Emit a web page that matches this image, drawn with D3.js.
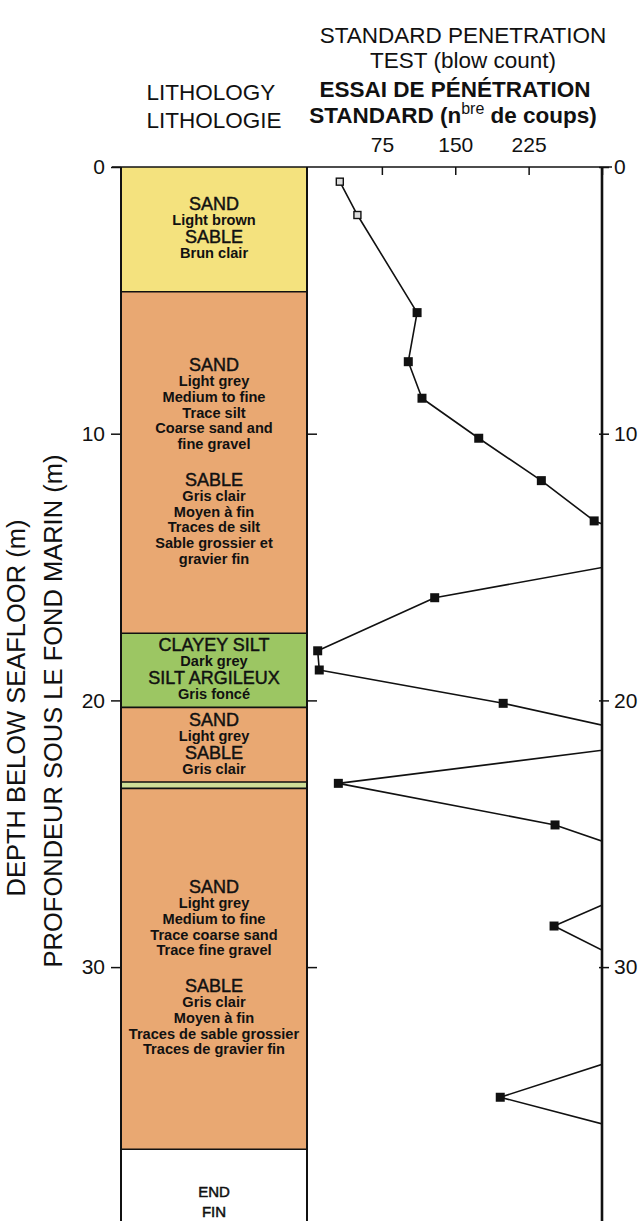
<!DOCTYPE html>
<html><head><meta charset="utf-8">
<script src="https://cdn.jsdelivr.net/npm/d3@7"></script>
<style>
html,body{margin:0;padding:0;background:#fff;}
svg{display:block;font-family:"Liberation Sans",Arial,Helvetica,sans-serif;}
</style></head><body>
<svg id="c" width="643" height="1221"></svg>
<script>
// ---------------- DATA ----------------
const depthTicks = [0, 10, 20, 30];
const depthTickLabels = ["0", "10", "20", "30"];
const sptTicks = [75, 150, 225, 300];
const sptTickLabels = ["75", "150", "225", ""];

// lithology layers (depth in m)
const layerTop    = [0,    4.68,  17.48, 20.26, 23.06, 23.3,  36.83];
const layerBottom = [4.68, 17.48, 20.26, 23.06, 23.3,  36.83, 40.9];
const layerKind   = ["sandBrown", "sandGrey", "clayeySilt", "sandGrey", "thinSilt", "sandGrey", "end"];
const layerText = [
  [["SAND","h"],["Light brown","s"],["SABLE","h"],["Brun clair","s"]],
  [["SAND","h"],["Light grey","s"],["Medium to fine","s"],["Trace silt","s"],["Coarse sand and","s"],["fine gravel","s"],"|",
   ["SABLE","h"],["Gris clair","s"],["Moyen à fin","s"],["Traces de silt","s"],["Sable grossier et","s"],["gravier fin","s"]],
  [["CLAYEY SILT","h"],["Dark grey","s"],["SILT ARGILEUX","h"],["Gris foncé","s"]],
  [["SAND","h"],["Light grey","s"],["SABLE","h"],["Gris clair","s"]],
  [],
  [["SAND","h"],["Light grey","s"],["Medium to fine","s"],["Trace coarse sand","s"],["Trace fine gravel","s"],"|",
   ["SABLE","h"],["Gris clair","s"],["Moyen à fin","s"],["Traces de sable grossier","s"],["Traces de gravier fin","s"]],
  [["END","e"],["FIN","e"]]
];

// standard penetration test: depth (m) and blow count (values > 300 are off-scale)
const sptDepth  = [0.55, 1.80, 5.46, 7.30, 8.67, 10.17, 11.76, 13.27, 14.49, 16.15, 18.14, 18.86, 20.11, 21.53, 23.11, 24.67, 26.34, 28.46, 31.97, 34.88, 36.6];
const sptBlows  = [32,   50,   111,  102,  116,  174,   238,   292,   380,   129,   9.4,   11,    199,   374,   30.5,  252,   384,   251,   441,   196,   375];
const sptOpen   = [true, true, false,false,false,false, false, false, false, false, false, false, false, false, false, false, false, false, false, false, false];

// ---------------- STYLE ----------------
const colors = {sandBrown:"#f4e27e", sandGrey:"#e9a872", clayeySilt:"#9cc663", thinSilt:"#cfdf98", end:"#ffffff"};
const font = {h:{size:18, weight:"normal", stroke:0.45}, s:{size:14.6, weight:"bold", stroke:0}, e:{size:15, weight:"normal", stroke:0.5}};

const svg = d3.select("#c");
const y = d3.scaleLinear().domain([0, 40]).range([167, 167 + 40 * 26.67]);
const x = d3.scaleLinear().domain([0, 300]).range([308.5, 602]);
const colL = 121, colR = 307, H = 1221;

// ---- lithology layers ----
const layers = layerTop.map((t, i) => ({top: t, bottom: layerBottom[i], kind: layerKind[i], text: layerText[i]}));
svg.append("g").selectAll("rect").data(layers).join("rect")
  .attr("x", colL).attr("width", colR - colL)
  .attr("y", d => y(d.top)).attr("height", d => y(d.bottom) - y(d.top))
  .attr("fill", d => colors[d.kind]);
svg.append("g").selectAll("line").data(layerBottom.slice(0, -1)).join("line")
  .attr("x1", colL).attr("x2", colR).attr("y1", d => y(d)).attr("y2", d => y(d))
  .attr("stroke", "#111").attr("stroke-width", 1.6);

// layer labels
function layout(lines) {
  const out = []; let yy = 0, prev = null, gap = false;
  lines.forEach(l => {
    if (l === "|") { gap = true; return; }
    const k = l[1];
    if (prev !== null) {
      if (gap) yy += 37;
      else if (k === "e" || prev === "e") yy += 20;
      else if (k === "h") yy += 18;
      else if (prev === "h") yy += 15;
      else yy += 15.7;
    }
    out.push({t: l[0], k, dy: yy}); prev = k; gap = false;
  });
  return out;
}
layers.forEach(L => {
  if (!L.text.length) return;
  const ls = layout(L.text);
  const top = ls[0].dy - font[ls[0].k].size * 0.72, bot = ls[ls.length - 1].dy + 3;
  const c = (y(L.top) + y(L.bottom)) / 2;
  const base = c - (top + bot) / 2;
  svg.append("g").selectAll("text").data(ls).join("text")
    .attr("x", (colL + colR) / 2).attr("y", d => base + d.dy)
    .attr("text-anchor", "middle").attr("fill", "#111")
    .attr("stroke", "#111").attr("stroke-width", d => font[d.k].stroke)
    .style("font-size", d => font[d.k].size + "px").style("font-weight", d => font[d.k].weight)
    .text(d => d.t);
});

// column borders
svg.append("line").attr("x1", colL).attr("x2", colL).attr("y1", y(0)).attr("y2", H).attr("stroke", "#111").attr("stroke-width", 2);
svg.append("line").attr("x1", colR).attr("x2", colR).attr("y1", y(0)).attr("y2", H).attr("stroke", "#111").attr("stroke-width", 2);
svg.append("line").attr("x1", x(300)).attr("x2", x(300)).attr("y1", y(0)).attr("y2", H).attr("stroke", "#111").attr("stroke-width", 2.6);
svg.append("line").attr("x1", 112).attr("x2", 612).attr("y1", y(0)).attr("y2", y(0)).attr("stroke", "#111").attr("stroke-width", 1.5);

// ---- axes ----
const axFont = g => g.selectAll("text").style("font-size", "21px").attr("fill", "#111").style("font-family", "Liberation Sans, Arial, sans-serif");
const axLine = g => { g.select(".domain").remove(); g.selectAll(".tick line").attr("stroke", "#111").attr("stroke-width", 1.5); };

svg.append("g").attr("transform", `translate(${colL},0)`)
  .call(d3.axisLeft(y).tickValues(depthTicks).tickFormat((d, i) => depthTickLabels[i]).tickSize(10).tickPadding(6))
  .call(axLine).call(axFont);
svg.append("g").attr("transform", `translate(${colR},0)`)
  .call(d3.axisLeft(y).tickValues(depthTicks.slice(1)).tickFormat("").tickSize(-10))
  .call(axLine);
svg.append("g").attr("transform", `translate(${x(300) - 3},0)`)
  .call(d3.axisRight(y).tickValues(depthTicks).tickFormat((d, i) => depthTickLabels[i]).tickSize(10).tickPadding(5))
  .call(axLine).call(axFont);
svg.append("g").attr("transform", `translate(0,${y(0)})`)
  .call(d3.axisTop(x).tickValues(sptTicks).tickFormat((d, i) => sptTickLabels[i]).tickSize(-8).tickSizeOuter(0).tickPadding(15))
  .call(axLine).call(axFont);

// ---- SPT profile ----
svg.append("clipPath").attr("id", "plotClip").append("rect")
  .attr("x", colR).attr("y", y(0)).attr("width", x(300) - colR).attr("height", H - y(0));
const pts = sptDepth.map((d, i) => ({d, v: sptBlows[i], open: sptOpen[i]}));
svg.append("path").datum(pts).attr("clip-path", "url(#plotClip)")
  .attr("fill", "none").attr("stroke", "#111").attr("stroke-width", 1.6).attr("stroke-linejoin", "round")
  .attr("d", d3.line().x(p => x(p.v)).y(p => y(p.d)));
svg.append("g").selectAll("rect").data(pts.filter(p => p.v <= 300)).join("rect")
  .attr("x", p => x(p.v) - (p.open ? 3.5 : 4.5)).attr("y", p => y(p.d) - (p.open ? 3.5 : 4.5))
  .attr("width", p => p.open ? 7 : 9).attr("height", p => p.open ? 7 : 9)
  .attr("fill", p => p.open ? "#ddd" : "#111").attr("stroke", "#111").attr("stroke-width", p => p.open ? 1.4 : 0);

// ---- titles ----
const T = (tx, ty, txt, size, weight, anchor) => svg.append("text").attr("x", tx).attr("y", ty)
  .attr("text-anchor", anchor || "middle").attr("fill", "#111")
  .style("font-size", size + "px").style("font-weight", weight || "normal").text(txt);
T(463, 43, "STANDARD PENETRATION", 22.5);
T(463, 68, "TEST (blow count)", 22.5);
T(455, 97, "ESSAI DE PÉNÉTRATION", 22.5, "bold");
const l4 = svg.append("text").attr("x", 453).attr("y", 123).attr("text-anchor", "middle").attr("fill", "#111")
  .style("font-size", "22.5px").style("font-weight", "bold");
l4.append("tspan").text("STANDARD (n");
l4.append("tspan").attr("dy", -9).style("font-size", "16px").style("font-weight", "normal").text("bre");
l4.append("tspan").attr("dy", 9).text(" de coups)");
T(211, 100, "LITHOLOGY", 22.5);
T(214, 128, "LITHOLOGIE", 22.5);

svg.append("text").attr("transform", "translate(25,708) rotate(-90)").attr("text-anchor", "middle")
  .attr("fill", "#111").style("font-size", "25.5px").text("DEPTH BELOW SEAFLOOR (m)");
svg.append("text").attr("transform", "translate(62,711) rotate(-90)").attr("text-anchor", "middle")
  .attr("fill", "#111").style("font-size", "25.5px").text("PROFONDEUR SOUS LE FOND MARIN (m)");
</script>
</body></html>
